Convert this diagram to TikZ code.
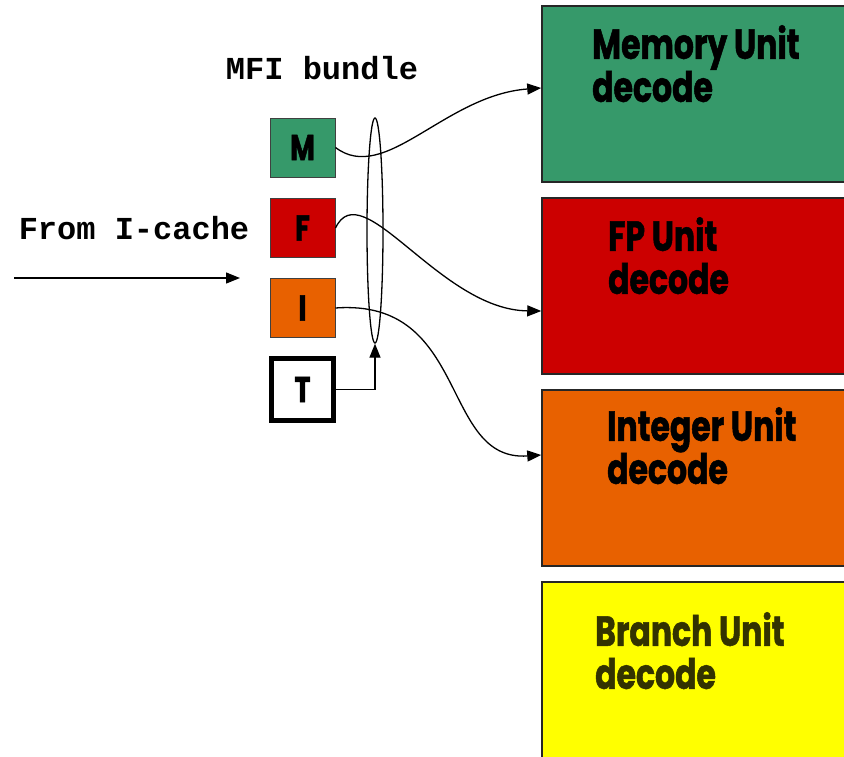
\documentclass[tikz,border=0pt]{standalone}
\usepackage{fontspec}
\newfontfamily\unitfont[FakeStretch=0.75, BoldFeatures={FakeBold=1.2}]{Poppins}
\setmonofont{Liberation Mono}
\usetikzlibrary{arrows.meta,shapes.geometric}
\definecolor{memgreen}{HTML}{36996A}
\definecolor{fpred}{HTML}{CC0000}
\definecolor{intorange}{HTML}{E86100}
\definecolor{bryellow}{HTML}{FFFF00}
\definecolor{olivetext}{HTML}{333300}
\tikzset{
  slot/.style={draw=black!75, line width=1pt, minimum width=65pt, minimum height=59pt, inner sep=0pt,
    font=\unitfont\bfseries\fontsize{36}{38}\selectfont},
  unitbox/.style={draw=black!85, line width=1.5pt, minimum width=318pt, inner sep=0pt},
  unitlabel/.style={anchor=north west, inner sep=0pt, align=left,
    font=\unitfont\bfseries\fontsize{42}{43}\selectfont},
  monolabel/.style={inner sep=0pt, font=\ttfamily\bfseries\fontsize{32}{34}\selectfont},
  conn/.style={line width=1.3pt, -{Triangle[length=14pt,width=11pt]}}
}
\begin{document}
\begin{tikzpicture}[x=1pt,y={(0pt,-1pt)}]
\useasboundingbox (0,0) rectangle (844,756);
\clip (0,0) rectangle (844,756);
\fill[white] (0,0) rectangle (844,756);

% decode units on the right
\node[unitbox, fill=memgreen, minimum height=176pt] (mem) at (701,94) {};
\node[unitbox, fill=fpred, minimum height=176pt] (fp) at (701,286) {};
\node[unitbox, fill=intorange, minimum height=176pt] (int) at (701,478) {};
\node[unitbox, fill=bryellow, minimum height=218pt] (br) at (701,691) {};

\node[unitlabel] (memtxt) at (592,25) {Memory Unit\\decode};
\node[unitlabel] (fptxt) at (608,217) {FP Unit\\decode};
\node[unitlabel] (inttxt) at (607,407) {Integer Unit\\decode};
\node[unitlabel, text=olivetext] (brtxt) at (595,612) {Branch Unit\\decode};

% instruction slots of the bundle
\node[slot, fill=memgreen] (M) at (302.5,147.5) {M};
\node[slot, fill=fpred] (F) at (302.5,228) {F};
\node[slot, fill=intorange] (I) at (302.5,308) {I};
\node[slot, fill=white, draw=black, line width=5pt, minimum width=62pt, minimum height=62pt] (T) at (302.5,389.5) {T};

% labels
\node[monolabel] (bundlelbl) at (322,68) {MFI bundle};
\node[monolabel] (cachelbl) at (134,228) {From I-cache};

% incoming instruction stream
\coordinate (inA) at (14,278);
\coordinate (inB) at (240,278);
\draw[conn] (inA) -- (inB);

% the bundle grouping
\node[draw, ellipse, line width=1.3pt, minimum width=16pt, minimum height=225pt, inner sep=0pt] (bundle) at (375,230.5) {};
\draw[conn] (T.east) -| (bundle.south);

% dispatch to decode units
\draw[conn] (M.east) .. controls (385,185) and (445,95) .. ([yshift=6pt]mem.west);
\draw[conn] (F.east) .. controls (362,172) and (440,310) .. ([yshift=-25pt]fp.west);
\draw[conn] (I.east) .. controls (470,298) and (440,462) .. ([yshift=23pt]int.west);
\end{tikzpicture}
\end{document}
